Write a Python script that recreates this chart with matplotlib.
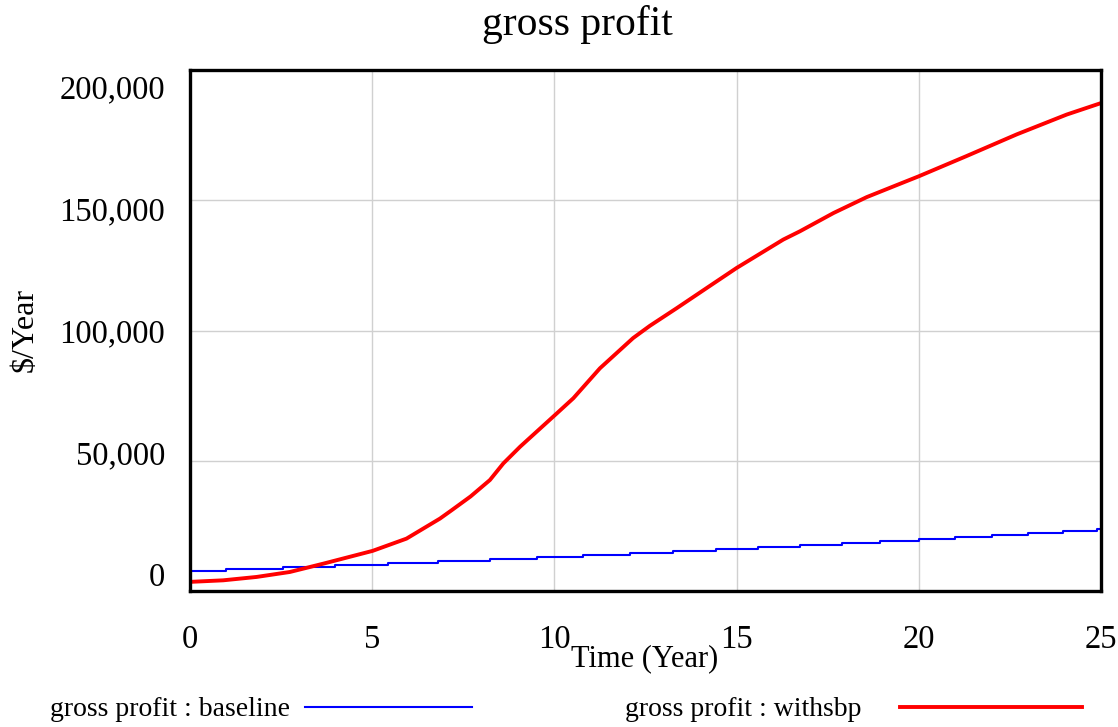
import matplotlib
matplotlib.use("Agg")
import matplotlib.pyplot as plt
import matplotlib.transforms as mtransforms
from matplotlib.lines import Line2D
from matplotlib.ticker import StrMethodFormatter

# baseline: step function (time of each step, value held after it)
baseline_step_times = [0, 1.0, 2.55, 3.98, 5.43, 6.81, 8.23, 9.52, 10.78, 12.07, 13.26,
                       14.44, 15.6, 16.74, 17.9, 18.93, 20.0, 21.0, 22.0, 23.0, 23.96, 24.9, 25]
baseline_values = [7600, 8400, 9100, 9900, 10700, 11400, 12200, 13000, 13700, 14500, 15300,
                   16000, 16800, 17600, 18300, 19100, 19900, 20600, 21400, 22200, 22900, 23700, 23700]

# withsbp: points
withsbp_time = [0, 0.91, 1.83, 2.74, 3.66, 5.01, 5.94, 6.86, 7.18, 7.7, 8.23, 8.6, 9.06,
                10.02, 10.52, 11.25, 12.16, 12.62, 13.36, 14.2, 15.0, 16.28, 16.74, 17.66,
                18.57, 19.48, 20.0, 21.3, 22.69, 24.06, 25]
withsbp_values = [3500, 4100, 5400, 7300, 10500, 15400, 20100, 27800, 31000, 36300, 42600,
                  49000, 55400, 67600, 74000, 85500, 97100, 101800, 108600, 116500, 124000,
                  134900, 138100, 145100, 151200, 156300, 159200, 166900, 175300, 182900, 187300]

x_ticks = [0, 5, 10, 15, 20, 25]
y_ticks = [0, 50000, 100000, 150000, 200000]

plt.rcParams['font.family'] = ['Liberation Serif', 'DejaVu Serif']

W, H = 1118, 727
fig = plt.figure(figsize=(W / 100, H / 100), dpi=100)
ax = fig.add_axes([190 / W, 136 / H, 911 / W, 521 / H])

ax.step(baseline_step_times, baseline_values, where='post', color='#0000ff', lw=1.5)
ax.plot(withsbp_time, withsbp_values, color='#ff0000', lw=2.8)

ax.set_xlim(0, 25)
ax.set_ylim(0, 200000)
ax.set_xticks(x_ticks)
ax.set_yticks(y_ticks)
ax.yaxis.set_major_formatter(StrMethodFormatter('{x:,.0f}'))
ax.grid(True, color='#d0d0d0', lw=1.0)
ax.set_axisbelow(True)
for s in ax.spines.values():
    s.set_linewidth(2.4)
    s.set_color('black')
ax.tick_params(length=0, labelsize=23.5)
ax.tick_params(axis='x', pad=24)
ax.tick_params(axis='y', pad=18)

# Vensim squeezes y labels toward the middle
for val, lab in zip(y_ticks, ax.get_yticklabels()):
    off = -(val - 100000) / 100000 * 16.5 / 100
    lab.set_transform(lab.get_transform() + mtransforms.ScaledTranslation(0, off, fig.dpi_scale_trans))

fig.text(577 / W, 1 - 25 / H, 'gross profit', fontsize=30, ha='center', va='center')
fig.text(25 / W, 1 - 330 / H, '$/Year', fontsize=23, rotation=90, ha='center', va='center')
fig.text(645 / W, 1 - 659 / H, 'Time (Year)', fontsize=22, ha='center', va='center')

# legend, Vensim style: label then line
legend_items = [
    ('gross profit : baseline', 50, 305, 472, '#0000ff', 1.5),
    ('gross profit : withsbp', 625, 900, 1082, '#ff0000', 2.8),
]
for label, tx, x0, x1, color, lw in legend_items:
    fig.text(tx / W, 1 - 710 / H, label, fontsize=20, ha='left', va='center')
    fig.add_artist(Line2D([x0 / W, x1 / W], [1 - 707 / H, 1 - 707 / H],
                          transform=fig.transFigure, color=color, lw=lw))

fig.savefig('out.png', dpi=100)
